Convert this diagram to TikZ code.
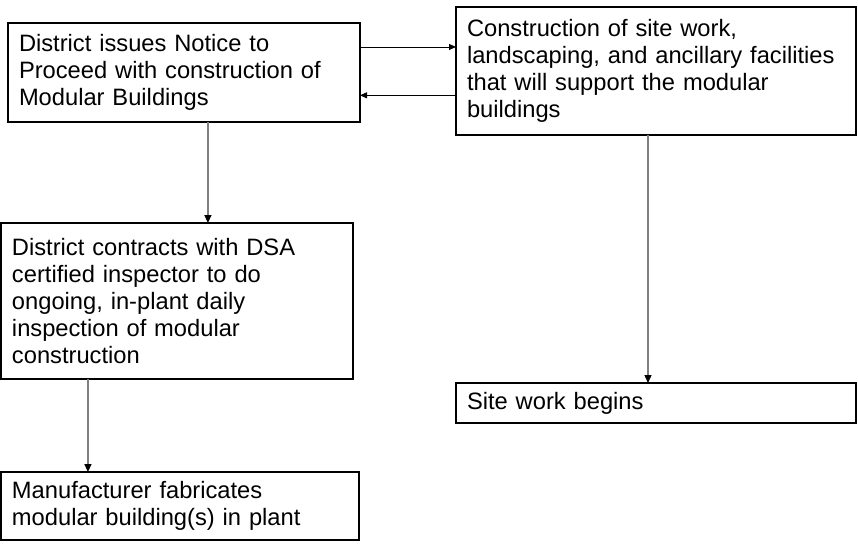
\documentclass[tikz,border=0pt]{standalone}
\usepackage{fontspec}
\setmainfont{Liberation Sans}
\usetikzlibrary{arrows.meta,calc}
\begin{document}
\begin{tikzpicture}[x=1pt,y=-1pt,
  box/.style={draw=black, line width=1.7pt, anchor=north west, inner xsep=11pt, inner ysep=0pt, outer sep=0pt, align=left, font=\fontsize{23.7}{27.2}\selectfont},
  harrow/.style={line width=0.9pt, -{Triangle[length=7pt,width=6pt]}},
  varrow/.style={draw=gray, line width=1.3pt, -{Triangle[length=8pt,width=7pt,fill=black,color=black]}}]
\useasboundingbox (0,0) rectangle (858,549);
\node[box, minimum width=352pt, minimum height=99pt, text width=330pt] (b1) at (8,23)
  {District issues Notice to\\Proceed with construction of\\Modular Buildings};
\node[box, minimum width=400pt, minimum height=128pt, text width=378pt] (b2) at (456,7)
  {Construction of site work,\\landscaping, and ancillary facilities\\that will support the modular\\buildings};
\node[box, minimum width=352pt, minimum height=156pt, text width=330pt] (b3) at (1,223)
  {District contracts with DSA\\certified inspector to do\\ongoing, in-plant daily\\inspection of modular\\construction};
\node[box, minimum width=400pt, minimum height=40pt, text width=378pt] (b4) at (456,383)
  {Site work begins};
\node[box, minimum width=358pt, minimum height=68pt, text width=336pt] (b5) at (1,472)
  {Manufacturer fabricates\\modular building(s) in plant};
\coordinate (p1) at ($(b1.north east)!0.242!(b1.south east)$);
\coordinate (p2) at ($(b2.north west)!0.69!(b2.south west)$);
\draw[harrow] (p1) -- (p1 -| b2.west);
\draw[harrow] (p2) -- (p2 -| b1.east);
\coordinate (q1) at ($(b1.south west)!0.568!(b1.south east)$);
\coordinate (q2) at ($(b2.south west)!0.48!(b2.south east)$);
\coordinate (q3) at ($(b3.south west)!0.247!(b3.south east)$);
\draw[varrow] (q1) -- (q1 |- b3.north);
\draw[varrow] (q2) -- (q2 |- b4.north);
\draw[varrow] (q3) -- (q3 |- b5.north);
\end{tikzpicture}
\end{document}
